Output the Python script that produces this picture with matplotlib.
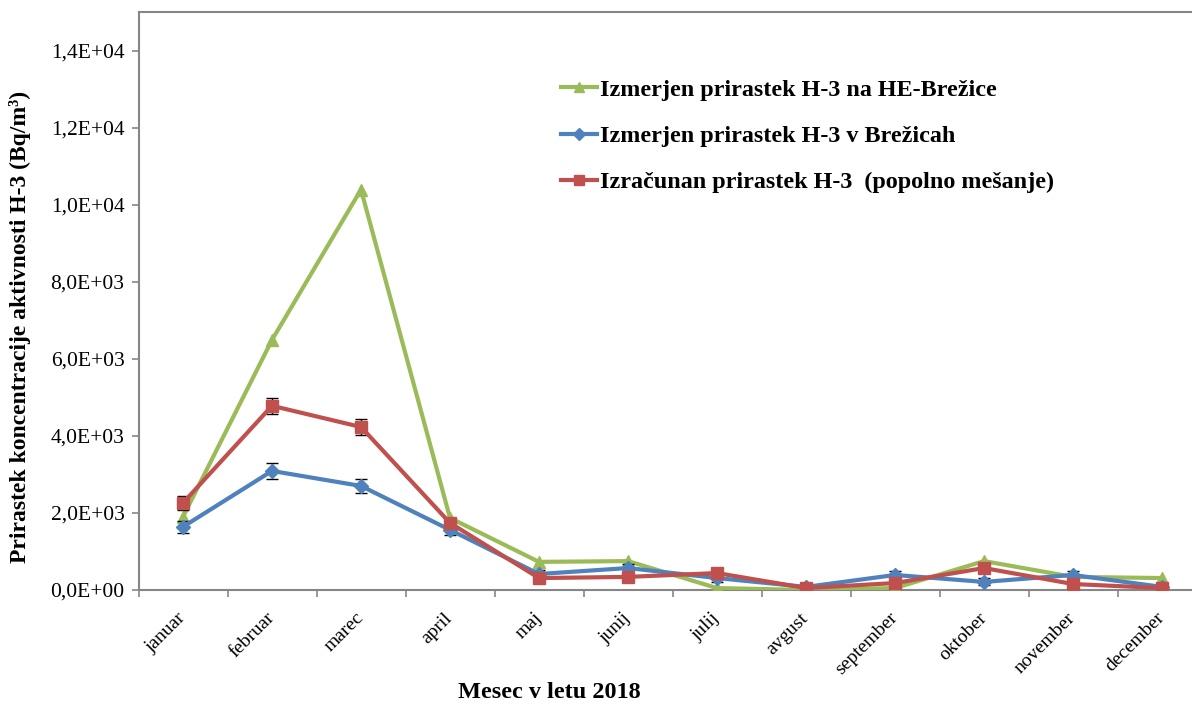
import matplotlib
matplotlib.use("Agg")
import matplotlib.pyplot as plt
from matplotlib.ticker import FuncFormatter, FixedLocator
from matplotlib.lines import Line2D
from matplotlib.transforms import ScaledTranslation
import numpy as np

months = ["januar", "februar", "marec", "april", "maj", "junij", "julij",
          "avgust", "september", "oktober", "november", "december"]

he_brezice = [1900, 6490, 10390, 1870, 730, 750, 50, 0, 50, 750, 340, 310]
brezice = [1640, 3090, 2700, 1560, 415, 570, 310, 80, 390, 210, 390, 80]
brezice_err = [160, 200, 190, 120, 100, 100, 90, 40, 100, 90, 100, 50]
izracunan = [2260, 4780, 4230, 1740, 310, 340, 440, 50, 180, 570, 155, 50]
izracunan_err = [180, 210, 195, 130, 90, 90, 90, 30, 60, 110, 60, 30]

labels = ["Izmerjen prirastek H-3 na HE-Brežice",
          "Izmerjen prirastek H-3 v Brežicah",
          "Izračunan prirastek H-3  (popolno mešanje)"]

GREEN = "#9BBB59"
BLUE = "#4F81BD"
RED = "#C0504D"
AXIS_GRAY = "#868686"

plt.rcParams["font.family"] = ["Liberation Serif", "DejaVu Serif"]

W, H = 1192, 704
fig = plt.figure(figsize=(W / 100, H / 100), dpi=100)
left, right, bottom, top = 138.5, 1206.5, 590, 12
ax = fig.add_axes([left / W, (H - bottom) / H, (right - left) / W, (bottom - top) / H])

x = np.arange(len(months))
lw = 3.0

ax.plot(x, he_brezice, color=GREEN, lw=lw, marker="^", ms=9, zorder=3)
ax.errorbar(x, brezice, yerr=brezice_err, color=BLUE, lw=lw, marker="D", ms=7,
            ecolor="black", elinewidth=1.0, capsize=4, capthick=1.0, zorder=4)
ax.errorbar(x, izracunan, yerr=izracunan_err, color=RED, lw=lw, marker="s", ms=9,
            ecolor="black", elinewidth=1.0, capsize=4, capthick=1.0, zorder=5)

ax.set_xlim(-0.5, len(months) - 0.5)
ax.set_ylim(0, 15000)

ax.yaxis.set_major_locator(FixedLocator(np.arange(0, 14001, 2000)))
ax.yaxis.set_major_formatter(FuncFormatter(lambda v, p: f"{v:.1E}".replace(".", ",")))

ax.set_xticks(x)
ax.set_xticklabels(months, rotation=45, ha="right", rotation_mode="anchor", fontsize=14)
ax.set_xticks(np.arange(-0.5, len(months), 1.0), minor=True)
ax.tick_params(axis="x", which="major", length=0, pad=14)
ax.tick_params(axis="x", which="minor", length=5, width=1.2, color=AXIS_GRAY, direction="out")
ax.tick_params(axis="y", which="major", length=5, width=1.2, color=AXIS_GRAY,
               direction="out", labelsize=15.5, pad=5)

shift = ScaledTranslation(-6 / 100, 0, fig.dpi_scale_trans)
for lab in ax.get_xticklabels():
    lab.set_transform(lab.get_transform() + shift)

for s in ["left", "bottom", "top"]:
    ax.spines[s].set_color(AXIS_GRAY)
    ax.spines[s].set_linewidth(1.5)
ax.spines["right"].set_visible(False)

fig.text(20 / W, 1 - 327 / H, "Prirastek koncentracije aktivnosti H-3 (Bq/m³)",
         fontsize=17, fontweight="bold", rotation=90, ha="center", va="center")
fig.text(549 / W, 1 - 692 / H, "Mesec v letu 2018", fontsize=17.5,
         fontweight="bold", ha="center", va="center")

handles = [
    Line2D([], [], color=GREEN, lw=lw, marker="^", ms=7),
    Line2D([], [], color=BLUE, lw=lw, marker="D", ms=6),
    Line2D([], [], color=RED, lw=lw, marker="s", ms=7),
]
ax.legend(handles, labels, loc="upper left", bbox_to_anchor=(561 / W, 1 - 79 / H),
          bbox_transform=fig.transFigure, frameon=False,
          prop={"size": 17.4, "weight": "bold"}, handlelength=1.5,
          handletextpad=0.12, labelspacing=1.0, borderaxespad=0, borderpad=0)

fig.savefig("out.png", dpi=100)
